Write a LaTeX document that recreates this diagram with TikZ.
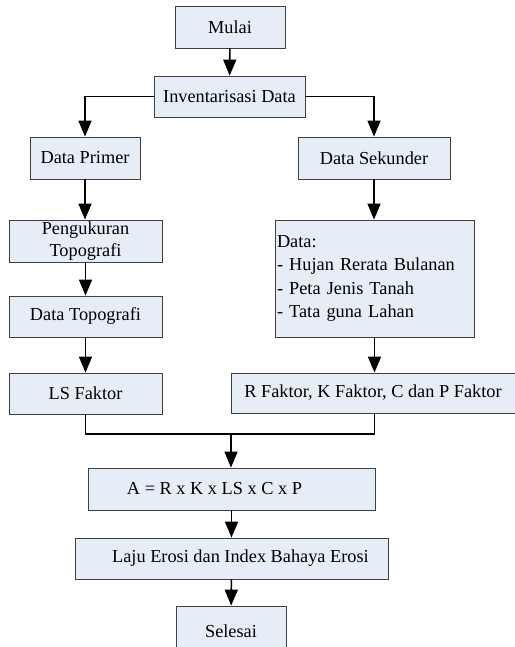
\documentclass[tikz,border=0pt]{standalone}
\usepackage{fontspec}
\setmainfont{Liberation Serif}
\usepackage{tikz}
\usetikzlibrary{arrows.meta,positioning}

\definecolor{boxfill}{RGB}{231,237,247}

\tikzset{
    box/.style={draw=black!75, line width=0.8pt, fill=boxfill, inner sep=1pt,
        font=\fontsize{18.3}{22}\selectfont, align=center},
    flow/.style={line width=1.6pt, -{Triangle[length=16pt, width=13pt]}},
    mergeline/.style={line width=1.6pt}
}

\begin{document}
\begin{tikzpicture}[x=1pt, y=-1pt]

    %% Background
    \useasboundingbox (0,0) rectangle (514,647);

    % Start
    \node[box, minimum width=110pt, minimum height=42pt] (mulai) at (230,27) {Mulai};
    \node[box, minimum width=151pt, minimum height=41pt] (inv) at (229.5,96.5) {Inventarisasi Data};

    % Left branch
    \node[box, minimum width=110pt, minimum height=42pt] (primer) at (85,158) {Data Primer};
    \node[box, minimum width=153pt, minimum height=42pt] (ukur) at (85.5,241) {Pengukuran\\[0pt]Topografi};
    \node[box, minimum width=153pt, minimum height=41pt] (topo) at (85.5,316.5) {Data Topografi};
    \node[box, minimum width=153pt, minimum height=41pt] (ls) at (85.5,393.5) {LS Faktor};

    % Right branch
    \node[box, minimum width=152pt, minimum height=42pt] (sekunder) at (374,158) {Data Sekunder};
    \node[box, minimum width=199pt, minimum height=117pt, text width=195pt, align=left,
        font=\fontsize{18.3}{23.5}\selectfont] (data) at (374.5,278.5)
    {Data:\\- Hujan Rerata Bulanan\\- Peta Jenis Tanah\\- Tata guna Lahan};
    \node[box, minimum width=284pt, minimum height=40pt] (rfak) at (373,393) {R Faktor, K Faktor, C dan P Faktor};

    % Bottom
    \coordinate (merge) at (231,434);
    \node[box, minimum width=287pt, minimum height=42pt] (rumus) at (231.5,489) {A = R x K x LS x C x P\hspace{34pt}};
    \node[box, minimum width=313pt, minimum height=41pt] (laju) at (231.5,558.5) {\hspace{18pt}Laju Erosi dan Index Bahaya Erosi};
    \node[box, minimum width=110pt, minimum height=50pt] (selesai) at (231,631) {Selesai};

    % Arrows
    \draw[flow] (mulai) -- (inv);
    \draw[flow] (inv.west) -| (primer);
    \draw[flow] (inv.east) -| (sekunder);
    \draw[flow] (primer.south) -- (primer.south |- ukur.north);
    \draw[flow] (ukur) -- (topo);
    \draw[flow] (topo) -- (ls);
    \draw[flow] (sekunder.south) -- (sekunder.south |- data.north);
    \draw[flow] (data.south) -- (data.south |- rfak.north);
    \draw[mergeline] (ls.south) |- (merge);
    \draw[mergeline] (data.south |- rfak.south) |- (merge);
    \draw[flow] (merge) -- (merge |- rumus.north);
    \draw[flow] (rumus) -- (laju);
    \draw[flow] (laju) -- (selesai);

\end{tikzpicture}
\end{document}
